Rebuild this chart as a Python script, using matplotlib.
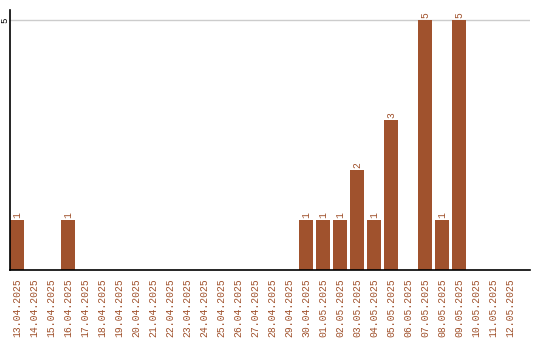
import matplotlib
matplotlib.use("Agg")
import matplotlib.pyplot as plt

dates = ["13.04.2025", "14.04.2025", "15.04.2025", "16.04.2025", "17.04.2025",
         "18.04.2025", "19.04.2025", "20.04.2025", "21.04.2025", "22.04.2025",
         "23.04.2025", "24.04.2025", "25.04.2025", "26.04.2025", "27.04.2025",
         "28.04.2025", "29.04.2025", "30.04.2025", "01.05.2025", "02.05.2025",
         "03.05.2025", "04.05.2025", "05.05.2025", "06.05.2025", "07.05.2025",
         "08.05.2025", "09.05.2025", "10.05.2025", "11.05.2025", "12.05.2025"]
values = [1, 0, 0, 1, 0, 0, 0, 0, 0, 0, 0, 0, 0, 0, 0, 0, 0,
          1, 1, 1, 2, 1, 3, 0, 5, 1, 5, 0, 0, 0]
yticks = [5]

color = "#A0522D"
font = "Liberation Mono"

fig = plt.figure(figsize=(5.4, 3.4), dpi=100)
ax = fig.add_axes([10/540, 70/340, 520/540, 260/340])
x = list(range(len(dates)))
w = 0.82
ax.bar(x, values, width=w, color=color, zorder=2)
for xi, v in zip(x, values):
    if v > 0:
        ax.text(xi, v + 0.04, str(v), rotation=90, ha="center", va="bottom",
                color=color, fontsize=7, family=font)

ax.set_xlim(-w/2, -w/2 + 520/17)
ax.set_ylim(0, 5.2)
ax.set_xticks(x)
ax.set_xticklabels(dates, rotation=90, color=color, fontsize=7, family=font)
ax.set_yticks(yticks)
ax.set_yticklabels([str(t) for t in yticks], rotation=90, va="center", fontsize=6.5, family=font)
ax.tick_params(axis="both", length=0)
ax.tick_params(axis="x", pad=6)
ax.tick_params(axis="y", pad=0.5)
ax.grid(axis="y", color="#cccccc", linewidth=1, zorder=0)
for s in ["top", "right"]:
    ax.spines[s].set_visible(False)
ax.spines["left"].set_linewidth(1.2)
ax.spines["bottom"].set_linewidth(1.2)

fig.savefig("out.png", dpi=100)
